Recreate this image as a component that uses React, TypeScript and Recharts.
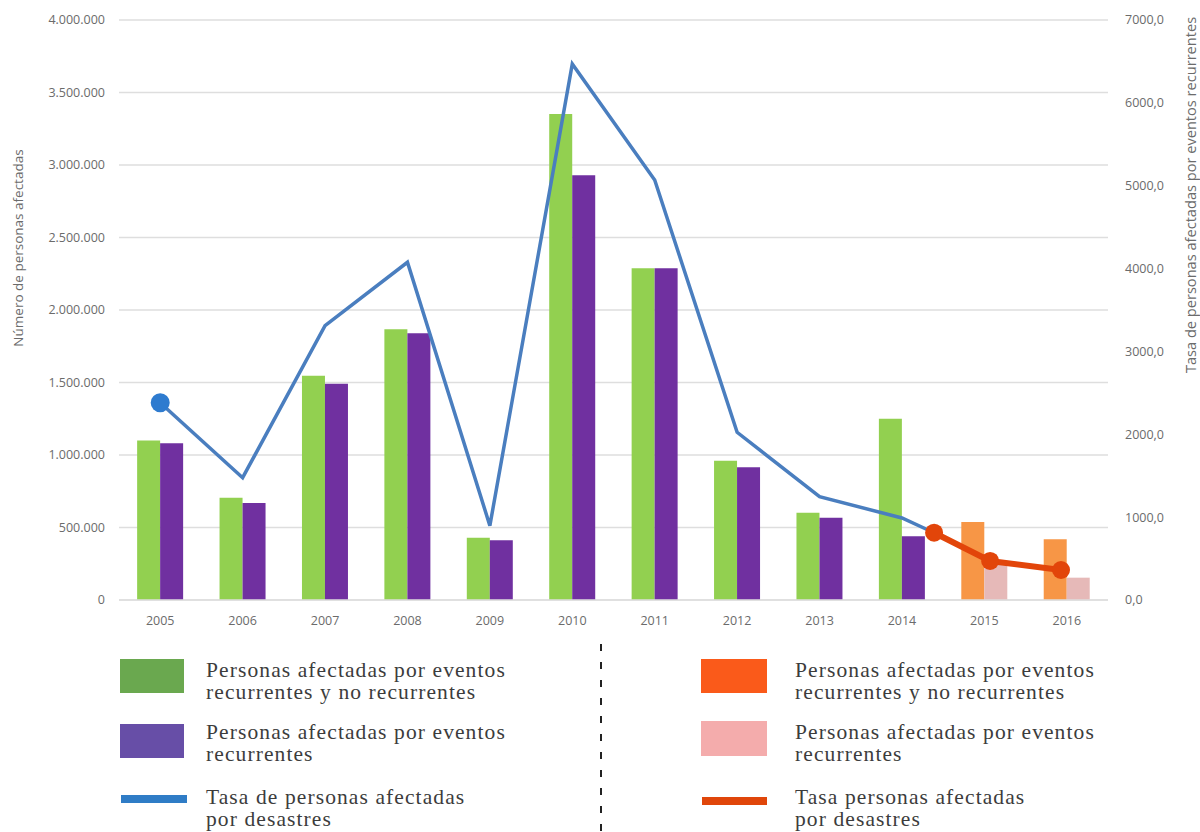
import {
    ComposedChart,
    Bar,
    Line,
    Cell,
    XAxis,
    YAxis,
    CartesianGrid,
} from "recharts";

// categorías y valores
const years = ["2005", "2006", "2007", "2008", "2009", "2010", "2011", "2012", "2013", "2014", "2015", "2016"];
const totalAffected = [1100000, 705000, 1547000, 1867000, 430000, 3352000, 2288000, 961000, 602000, 1250000, 538000, 419000];
const recurrentAffected = [1081000, 669000, 1492000, 1839000, 412000, 2929000, 2288000, 915000, 568000, 439000, 245000, 154000];

// tasa (eje derecho)
const rateX = [2005, 2006, 2007, 2008, 2009, 2010, 2011, 2012, 2013, 2014, 2014.39];
const rateValues = [2381, 1476, 3311, 4076, 897, 6469, 5069, 2024, 1247, 990, 812];
const rateNewX = [2014.39, 2015.07, 2015.93];
const rateNewValues = [812, 471, 362];

const leftTicks = [0, 500000, 1000000, 1500000, 2000000, 2500000, 3000000, 3500000, 4000000];
const rightTicks = [0, 1000, 2000, 3000, 4000, 5000, 6000, 7000];

const newYears = ["2015", "2016"];

const barData = years.map((y, i) => ({
    year: y,
    total: totalAffected[i],
    recurrent: recurrentAffected[i],
}));
const rateData = rateX.map((x, i) => ({ x, rate: rateValues[i] }));
const rateNewData = rateNewX.map((x, i) => ({ x, rate: rateNewValues[i] }));

const fmtLeft = (v: number) => String(v).replace(/\B(?=(\d{3})+(?!\d))/g, ".");
const fmtRight = (v: number) => v.toFixed(1).replace(".", ",");

const axisFont = { fontFamily: "'Open Sans', sans-serif", fontSize: 12.5, fill: "#6b6b6b" };
const legendText: React.CSSProperties = {
    position: "absolute",
    fontFamily: "'Liberation Serif', serif",
    fontSize: 21.5,
    lineHeight: "22px",
    letterSpacing: "1.1px",
    color: "#3c3c3c",
    whiteSpace: "nowrap",
};

function BlueDot(props: any) {
    const { cx, cy, index } = props;
    if (index !== 0) return <g key={"d" + index} />;
    return <circle key={"d" + index} cx={cx} cy={cy} r={9.5} fill="#2E7BCF" />;
}

function App() {
    return (
        <div style={{ position: "absolute", left: 0, top: 0, width: 1200, height: 832, background: "#fff" }}>
            <ComposedChart
                width={1200}
                height={640}
                data={barData}
                margin={{ top: 20, right: 0, bottom: 0, left: 0 }}
                barCategoryGap="22%"
                barGap={0}
            >
                <CartesianGrid vertical={false} stroke="#dedede" strokeWidth={1.5} yAxisId="left" />
                <XAxis
                    xAxisId="cat"
                    dataKey="year"
                    height={40}
                    tickLine={false}
                    axisLine={{ stroke: "#dedede", strokeWidth: 1.5 }}
                    tick={axisFont}
                    tickMargin={10}
                />
                <XAxis
                    xAxisId="pos"
                    type="number"
                    dataKey="x"
                    domain={[2004.5, 2016.5]}
                    allowDataOverflow
                    hide
                />
                <YAxis
                    yAxisId="left"
                    width={119}
                    domain={[0, 4000000]}
                    ticks={leftTicks}
                    tickFormatter={fmtLeft}
                    tickLine={false}
                    axisLine={false}
                    tick={axisFont}
                    tickMargin={8}
                />
                <YAxis
                    yAxisId="right"
                    orientation="right"
                    width={92}
                    domain={[0, 7000]}
                    ticks={rightTicks}
                    tickFormatter={fmtRight}
                    tickLine={false}
                    axisLine={false}
                    tick={{ ...axisFont, textAnchor: "start" }}
                    tickMargin={11}
                />
                <Bar xAxisId="cat" yAxisId="left" dataKey="total" isAnimationActive={false}>
                    {barData.map((d) => (
                        <Cell key={d.year} fill={newYears.includes(d.year) ? "#F79646" : "#92D050"} />
                    ))}
                </Bar>
                <Bar xAxisId="cat" yAxisId="left" dataKey="recurrent" isAnimationActive={false}>
                    {barData.map((d) => (
                        <Cell key={d.year} fill={newYears.includes(d.year) ? "#E6B9B8" : "#7030A0"} />
                    ))}
                </Bar>
                <Line
                    xAxisId="pos"
                    yAxisId="right"
                    data={rateData}
                    dataKey="rate"
                    type="linear"
                    stroke="#4A7EBF"
                    strokeWidth={3.5}
                    dot={BlueDot}
                    activeDot={false}
                    isAnimationActive={false}
                />
                <Line
                    xAxisId="pos"
                    yAxisId="right"
                    data={rateNewData}
                    dataKey="rate"
                    type="linear"
                    stroke="#E2450A"
                    strokeWidth={6}
                    dot={{ r: 9, fill: "#E2450A", stroke: "none" }}
                    activeDot={false}
                    isAnimationActive={false}
                />
            </ComposedChart>

            {/* títulos de ejes */}
            <div
                style={{
                    position: "absolute",
                    left: 18,
                    top: 248,
                    transform: "translate(-50%, -50%) rotate(-90deg)",
                    fontFamily: "'Open Sans', sans-serif",
                    fontSize: 13.5,
                    color: "#6b6b6b",
                    whiteSpace: "nowrap",
                }}
            >
                Número de personas afectadas
            </div>
            <div
                style={{
                    position: "absolute",
                    left: 1190,
                    top: 195,
                    transform: "translate(-50%, -50%) rotate(-90deg)",
                    fontFamily: "'Open Sans', sans-serif",
                    fontSize: 14.6,
                    color: "#6b6b6b",
                    whiteSpace: "nowrap",
                }}
            >
                Tasa de personas afectadas por eventos recurrentes
            </div>

            {/* leyenda */}
            <div style={{ position: "absolute", left: 120, top: 659, width: 64, height: 34, background: "#6AA84F" }} />
            <div style={{ ...legendText, left: 206, top: 659 }}>
                Personas afectadas por eventos<br />recurrentes y no recurrentes
            </div>
            <div style={{ position: "absolute", left: 120, top: 724, width: 64, height: 34, background: "#674EA7" }} />
            <div style={{ ...legendText, left: 206, top: 721 }}>
                Personas afectadas por eventos<br />recurrentes
            </div>
            <div style={{ position: "absolute", left: 121, top: 795, width: 66, height: 8, background: "#2F7CC6" }} />
            <div style={{ ...legendText, left: 206, top: 786 }}>
                Tasa de personas afectadas<br />por desastres
            </div>

            <svg style={{ position: "absolute", left: 596, top: 640 }} width={10} height={192}>
                <line x1={5} y1={4} x2={5} y2={192} stroke="#222" strokeWidth={2} strokeDasharray="7 11" />
            </svg>

            <div style={{ position: "absolute", left: 701, top: 659, width: 66, height: 34, background: "#FA5A1A" }} />
            <div style={{ ...legendText, left: 795, top: 659 }}>
                Personas afectadas por eventos<br />recurrentes y no recurrentes
            </div>
            <div style={{ position: "absolute", left: 701, top: 721, width: 66, height: 35, background: "#F4ACAC" }} />
            <div style={{ ...legendText, left: 795, top: 721 }}>
                Personas afectadas por eventos<br />recurrentes
            </div>
            <div style={{ position: "absolute", left: 702, top: 797, width: 65, height: 8, background: "#E0460A" }} />
            <div style={{ ...legendText, left: 795, top: 786 }}>
                Tasa personas afectadas<br />por desastres
            </div>
        </div>
    );
}

export default App;
